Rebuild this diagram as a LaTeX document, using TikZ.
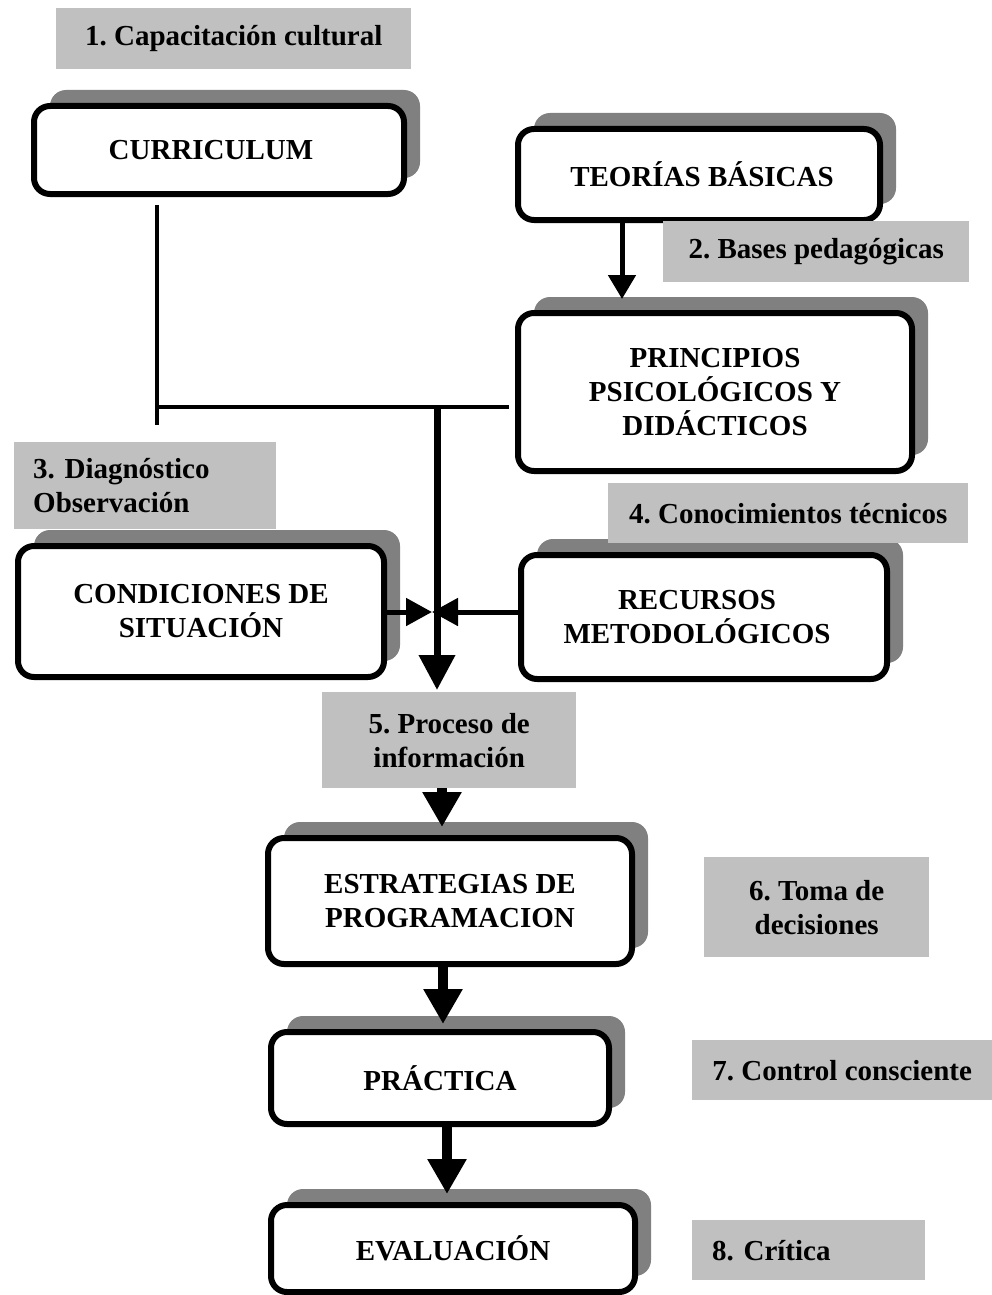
\documentclass[tikz,border=0pt]{standalone}
\usepackage{fontspec}
\setmainfont{Liberation Serif}
\usetikzlibrary{arrows.meta,shadows,calc}
\definecolor{shade}{HTML}{808080}
\definecolor{tagfill}{HTML}{C0C0C0}
\frenchspacing

\begin{document}
\begin{tikzpicture}[x=1pt,y=-1pt,
  font=\fontsize{29}{34}\selectfont\bfseries,
  card/.style={draw=black, line width=6pt, rounded corners=16pt, fill=white,
    align=center, inner sep=0pt,
    drop shadow={shadow xshift=16pt, shadow yshift=16pt, fill=shade, opacity=1}},
  tag/.style={fill=tagfill, inner sep=0pt, align=center, anchor=north west},
  thinlink/.style={line width=3.5pt},
  slimflow/.style={line width=5pt, -{Triangle[width=27pt,length=24pt]}},
  midflow/.style={line width=5pt, -{Triangle[width=27pt,length=26pt]}},
  mainflow/.style={line width=7pt, -{Triangle[width=35pt,length=35pt]}},
  fatflow/.style={line width=10pt, -{Triangle[width=37pt,length=35pt]}}
]
\useasboundingbox (0,0) rectangle (992,1295);

% framed stages
\node[card, minimum width=370pt, minimum height=88pt]  (curr) at (219,150)    {CURRICULUM\kern16pt};
\node[card, minimum width=362pt, minimum height=91pt]  (teor) at (699,174.5)  {\kern6pt TEORÍAS BÁSICAS};
\node[card, minimum width=394pt, minimum height=158pt] (prin) at (715,392)    {PRINCIPIOS\\PSICOLÓGICOS Y\\DIDÁCTICOS};
\node[card, minimum width=366pt, minimum height=131pt] (cond) at (201,611.5)  {CONDICIONES DE\\SITUACIÓN};
\node[card, minimum width=366pt, minimum height=124pt] (recu) at (704,617)    {RECURSOS\kern14pt\\METODOLÓGICOS\kern14pt};
\node[card, minimum width=364pt, minimum height=126pt] (estr) at (450,901)    {ESTRATEGIAS DE\\PROGRAMACION};
\node[card, minimum width=338pt, minimum height=92pt]  (prac) at (440,1078)   {PRÁCTICA};
\node[card, minimum width=364pt, minimum height=87pt]  (eval) at (453,1248.5) {EVALUACIÓN};

% grey step labels
\node[tag, minimum width=355pt, minimum height=61pt] (l1) at (56,8)    {1. Capacitación cultural};
\node[tag, minimum width=306pt, minimum height=61pt] (l2) at (663,221) {2. Bases pedagógicas};
\node[tag, minimum width=262pt, minimum height=87pt, inner xsep=19pt, text width=224pt, align=left] (l3) at (14,442) {3. Diagnóstico\\Observación};
\node[tag, minimum width=360pt, minimum height=60pt] (l4) at (608,483) {4. Conocimientos técnicos};
\node[tag, minimum width=254pt, minimum height=96pt] (l5) at (322,692) {5. Proceso de\\información};
\node[tag, minimum width=225pt, minimum height=100pt] (l6) at (704,857) {6. Toma de\\decisiones};
\node[tag, minimum width=300pt, minimum height=60pt] (l7) at (692,1040) {7. Control consciente};
\node[tag, minimum width=233pt, minimum height=60pt, inner xsep=20pt, text width=193pt, align=left] (l8) at (692,1220) {8. Crítica};

% routing points
\coordinate (ctop) at (157,205);
\coordinate (cbot) at (157,425);
\coordinate (hleft) at (157,407);
\coordinate (junc) at (437,407);
\coordinate (meet) at (437,612);
\coordinate (tx) at (622,0);
\coordinate (ax1) at (442,0);
\coordinate (ax2) at (443,0);
\coordinate (ax3) at (447,0);

% connectors
\draw[slimflow, shorten >=11pt] (teor.south -| tx) -- (prin.north -| tx);
\draw[thinlink] (ctop) -- (cbot);
\draw[thinlink, shorten >=6pt] (hleft) -- (prin.west |- hleft);
\draw[mainflow, shorten >=2pt] (junc) -- (l5.north -| junc);
\draw[midflow, shorten >=5pt] (cond.east |- meet) -- (meet);
\draw[midflow, shorten >=-5pt] (recu.west |- meet) -- (meet);
\draw[fatflow, shorten >=8pt] (l5.south -| ax1) -- (estr.north -| ax1);
\draw[fatflow, shorten >=5pt] (estr.south -| ax2) -- (prac.north -| ax2);
\draw[fatflow, shorten >=8pt] (prac.south -| ax3) -- (eval.north -| ax3);
\end{tikzpicture}
\end{document}
